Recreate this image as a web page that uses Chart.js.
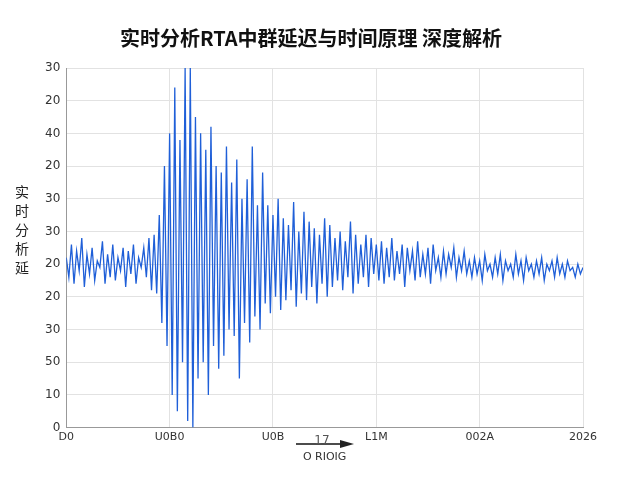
<!DOCTYPE html>
<html lang="zh-CN">
<head>
<meta charset="UTF-8" />
<title>实时分析RTA中群延迟与时间原理 深度解析</title>
<style>
  body { margin: 0; background: #fff; font-family: "Noto Sans CJK SC", "Noto Sans", sans-serif; }
  #wrap { width: 640px; height: 480px; }
</style>
</head>
<body>
<div id="wrap"><canvas id="chart-1" width="640" height="480"></canvas></div>
<script src="https://cdn.jsdelivr.net/npm/chart.js"></script>
<script>
// tick labels as printed in the picture
const yTickLabels = ["0", "10", "50", "30", "20", "20", "30", "30", "20", "40", "20", "30"];
const xTickLabels = ["D0", "U0B0", "U0B", "L1M", "002A", "2026"];
const yTitleChars = ["实", "时", "分", "析", "延"];

// signal samples, in y-tick steps
const signal = [
  5.2,4.6,5.6,4.4,5.4,4.8,5.8,4.3,5.3,4.7,5.5,4.5,5.1,4.9,5.7,4.4,5.3,4.6,5.6,4.5,5.2,4.8,5.5,4.3,5.4,4.7,5.6,4.4,5.2,4.9,5.5,4.6,5.8,4.2,5.9,4.1,
  6.5,3.2,8.0,2.5,9.0,1.0,10.4,0.5,8.8,2.0,11,0.2,11,0,9.5,1.5,
  9.0,2.0,8.5,1.0,9.2,2.5,8.0,1.8,7.8,2.2,8.6,3.0,7.5,2.8,8.2,1.5,7.0,3.2,7.6,2.6,8.6,3.4,6.8,3.0,7.8,
  3.8,6.8,3.5,6.5,4.0,7.0,3.6,6.4,3.9,6.2,4.2,6.9,3.7,6.0,4.1,6.6,3.9,6.3,4.3,6.1,3.8,5.9,4.4,6.4,4.0,6.2,4.3,5.8,4.5,6.0,4.2,5.7,4.6,6.3,4.1,5.9,4.4,5.6,4.6,5.9,4.3,5.8,4.7,5.6,4.5,
  5.7,4.4,5.5,4.6,5.8,4.5,5.4,4.7,5.6,4.3,5.5,4.8,5.4,4.5,5.7,4.6,5.3,4.7,5.5,4.4,5.6,4.8,5.2,4.6,5.4,4.7,5.3,4.9,5.5,4.6,5.2,4.8,5.4,4.7,5.1,
  4.6,5.2,4.7,5.1,4.5,5.3,4.8,5.0,4.6,5.2,4.7,5.3,4.5,5.1,4.8,5.0,4.6,5.3,4.7,5.1,4.5,5.2,4.8,5.0,4.6,5.1,4.7,5.2,4.5,5.0,4.8,5.1,4.6,5.2,4.7,5.0,4.6,5.1,4.8,4.9,4.6,5.0,4.7,4.9
];

const points = signal.map((v, i) => ({ x: i * 5 / (signal.length - 1), y: v }));

// vertical stacked y title + arrow label under the x axis
const extras = {
  id: "extras",
  afterDraw(chart) {
    const ctx = chart.ctx;
    ctx.save();
    ctx.fillStyle = "#222";
    ctx.font = "14px 'Noto Sans CJK SC'";
    ctx.textAlign = "center";
    ctx.textBaseline = "middle";
    yTitleChars.forEach((c, i) => ctx.fillText(c, 22, 192 + i * 19));
    // arrow with "17"
    ctx.strokeStyle = "#111";
    ctx.lineWidth = 1.5;
    ctx.beginPath();
    ctx.moveTo(296, 444);
    ctx.lineTo(344, 444);
    ctx.stroke();
    ctx.beginPath();
    ctx.moveTo(354, 444);
    ctx.lineTo(340, 440);
    ctx.lineTo(340, 448);
    ctx.closePath();
    ctx.fill();
    ctx.font = "12px 'DejaVu Sans'";
    ctx.fillStyle = "#555";
    ctx.fillText("17", 322, 441);
    ctx.restore();
  }
};

new Chart(document.getElementById("chart-1"), {
  type: "line",
  data: {
    datasets: [{
      data: points,
      borderColor: "#1f5fd8",
      borderWidth: 1.3,
      pointRadius: 0,
      tension: 0,
      fill: false
    }]
  },
  options: {
    responsive: false,
    animation: false,
    layout: { padding: { left: 39, right: 57, top: 4, bottom: 12 } },
    plugins: {
      legend: { display: false },
      tooltip: { enabled: false },
      title: {
        display: true,
        text: "实时分析RTA中群延迟与时间原理 深度解析",
        color: "#111",
        font: { family: "Noto Sans CJK SC", size: 20, weight: "bold" },
        padding: { top: 22, bottom: 18 }
      }
    },
    scales: {
      x: {
        type: "linear",
        min: 0,
        max: 5,
        ticks: {
          stepSize: 1,
          color: "#333",
          font: { family: "DejaVu Sans", size: 11 },
          callback: (v) => xTickLabels[v] ?? ""
        },
        grid: { color: "#e2e2e2", drawTicks: false },
        border: { color: "#999" },
        title: {
          display: true,
          text: "O RIOIG",
          color: "#333",
          font: { family: "DejaVu Sans", size: 11 },
          padding: { top: 4 }
        }
      },
      y: {
        min: 0,
        max: 11,
        ticks: {
          stepSize: 1,
          color: "#333",
          padding: 6,
          font: { family: "DejaVu Sans", size: 12 },
          callback: (v) => yTickLabels[v] ?? ""
        },
        grid: { color: "#e2e2e2", drawTicks: false },
        border: { color: "#999" }
      }
    }
  },
  plugins: [extras]
});
</script>
</body>
</html>
